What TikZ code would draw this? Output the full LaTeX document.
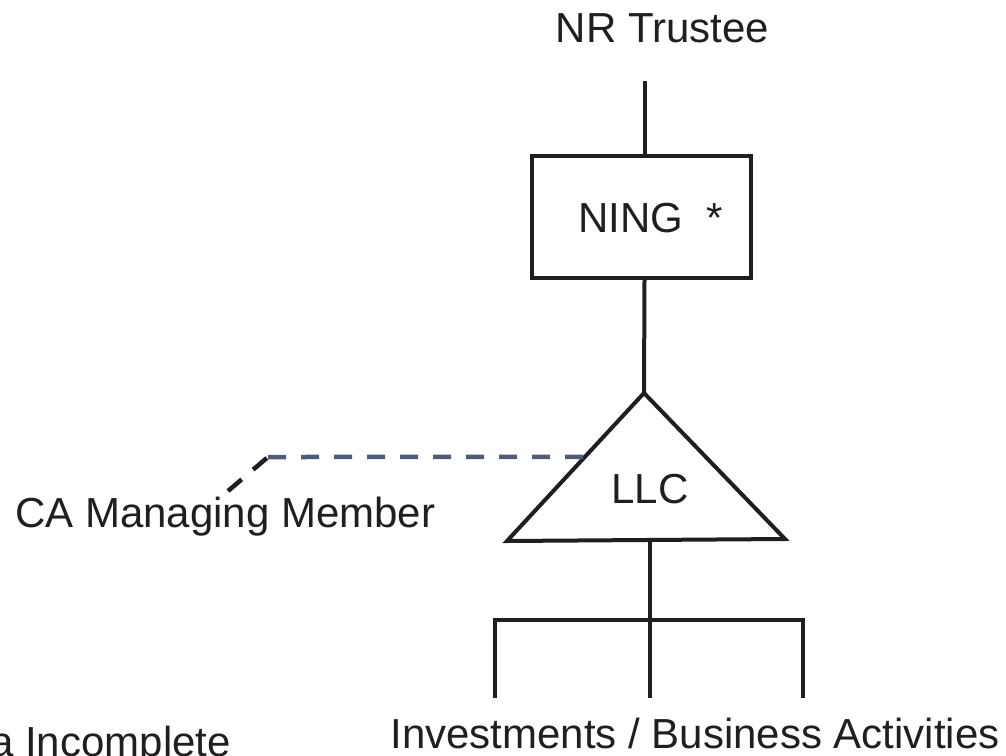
\documentclass[tikz,border=0pt]{standalone}
\usepackage{fontspec}
\setmainfont{Liberation Sans}
\usetikzlibrary{calc}
\definecolor{ink}{HTML}{1F1F1F}
\definecolor{slate}{HTML}{4E5C77}
\begin{document}
\begin{tikzpicture}[x=1pt,y=-1pt,
  label text/.style={inner sep=0pt,text=ink,font=\fontsize{42}{50}\selectfont},
  solid link/.style={draw=ink,line width=4pt},
  member link/.style={line width=4.5pt,dash pattern=on 18pt off 15pt},
  entity box/.style={draw=ink,line width=4pt,minimum width=219pt,minimum height=122pt,inner sep=0pt}]
\useasboundingbox (0,0) rectangle (1006,755);
\clip (0,0) rectangle (1006,755);

% owner at the top
\node[label text,anchor=base] (trustee) at (662.5,42) {NR Trustee};

% NING trust box
\node[entity box] (ning) at (641.5,217) {};
\node[label text,anchor=base] (ningtext) at (650.5,232) {NING\ \ *};
\draw[solid link] ([xshift=3pt,yshift=-38pt]trustee.south -| ning.north) -- ([xshift=3pt]ning.north);

% LLC triangle
\coordinate (apex) at (644,393);
\coordinate (bl) at (507,541);
\coordinate (br) at (785,539);
\draw[solid link,line join=miter] (apex) -- (bl) -- (br) -- cycle;
\node[label text,anchor=base] (llc) at (650,503) {LLC};
\draw[solid link] ([xshift=3pt]ning.south) -- (apex);

% managing member link
\node[label text,anchor=base west] (member) at (15,527) {CA Managing Member};
\coordinate (bend) at (268,457);
\coordinate (foot) at (228,491);
\coordinate (edge) at ($(apex)!0.432!(bl)$);
\draw[member link,draw=slate] (bend) -- (edge);
\draw[member link,draw=ink] (foot) -- (bend);

% holdings below the LLC
\coordinate (tb) at (650,540);
\coordinate (hub) at (650,620);
\coordinate (lt) at (495,620);
\coordinate (rt) at (803,620);
\coordinate (ld) at (495,698);
\coordinate (md) at (650,698);
\coordinate (rd) at (803,698);
\draw[solid link] (tb) -- (hub) -- (md);
\draw[solid link,line join=miter] (ld) -- (lt) -- (rt) -- (rd);
\node[label text,anchor=base] (invest) at (695,748) {Investments / Business Activities};

% note at the lower left
\node[label text,anchor=base east] (note) at (231,756) {a Incomplete};
\end{tikzpicture}
\end{document}
